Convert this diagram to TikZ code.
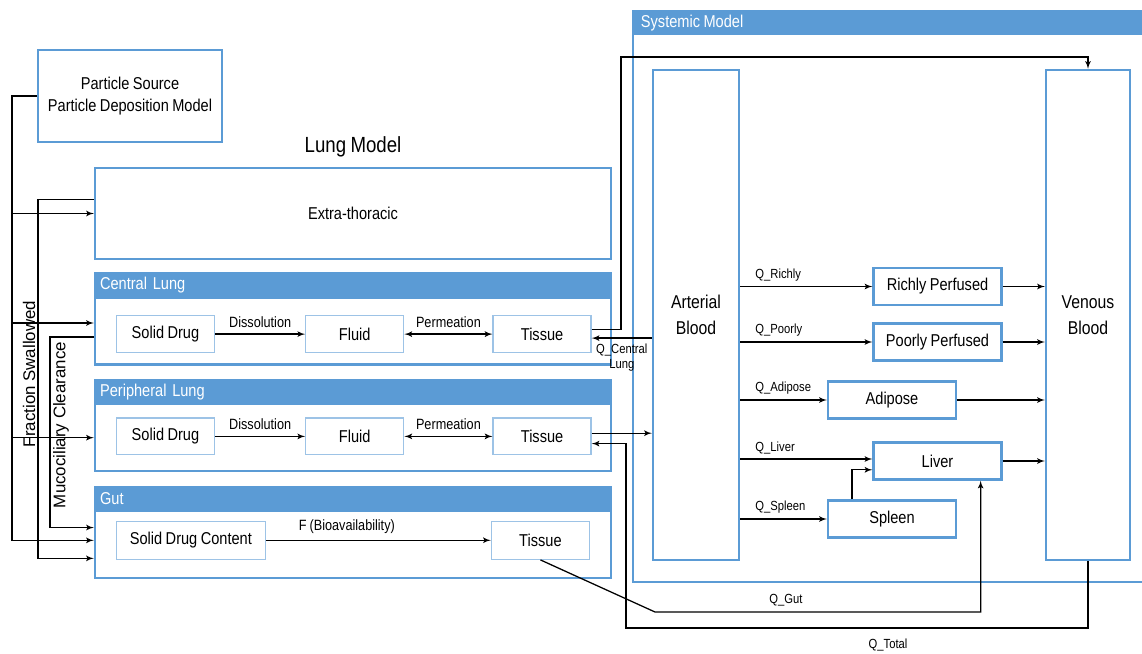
\documentclass[tikz,border=0pt]{standalone}
\usepackage{fontspec}
\setmainfont{Liberation Sans}[FakeStretch=0.85, WordSpace=0.85]
\newfontfamily\sidefont{Liberation Sans}
\usetikzlibrary{shapes, arrows, positioning}
\definecolor{panelblue}{RGB}{91,155,213}
\definecolor{itemblue}{RGB}{157,195,230}
\tikzstyle{panel} = [rectangle, draw=panelblue, line width=1.6pt, minimum width=12.9cm, minimum height=2.28cm, font=\fontsize{12.2}{14}\selectfont]
\tikzstyle{header} = [rectangle, fill=panelblue, text=white, anchor=north west, minimum height=0.65cm, text width=12.6cm, inner xsep=0.15cm, inner ysep=0pt, align=left, font=\fontsize{12.2}{14}\selectfont]
\tikzstyle{srcbox} = [rectangle, draw=panelblue, line width=1.6pt, minimum width=4.6cm, minimum height=2.3cm, align=center, font=\fontsize{12.2}{15.5}\selectfont]
\tikzstyle{compartment} = [rectangle, draw=itemblue, line width=0.9pt, minimum width=2.45cm, minimum height=0.92cm, font=\fontsize{12.2}{14}\selectfont]
\tikzstyle{organ} = [rectangle, draw=panelblue, line width=1.6pt, minimum width=3.2cm, minimum height=0.93cm, font=\fontsize{12.2}{14}\selectfont]
\tikzstyle{blood} = [rectangle, draw=panelblue, line width=1.6pt, minimum height=12.25cm, align=center, font=\fontsize{13.2}{18.5}\selectfont]
\tikzstyle{flowlabel} = [font=\fontsize{10.6}{12}\selectfont]
\tikzstyle{qlabel} = [font=\fontsize{9.4}{11}\selectfont]
\tikzstyle{sidelabel} = [rotate=90, font=\sidefont\fontsize{12}{14}\selectfont]
\tikzstyle{line} = [draw, -latex', line width=0.9pt]
\tikzstyle{dline} = [draw, latex'-latex', line width=0.9pt]

\begin{document}
\begin{tikzpicture}[x=0.025cm, y=-0.025cm]
  \useasboundingbox (0,0) rectangle (1142,653);
  %% nodes
  % source
  \node [srcbox] (source) at (130,96) {Particle Source\\Particle Deposition Model};
  % lung model panels
  \node [panel] (extra) at (353,213.5) {Extra-thoracic};
  \node [above=0.12cm of extra, font=\fontsize{15.6}{17}\selectfont] (lungtitle) {Lung Model};
  \node [panel, below=0.3cm of extra] (central) {};
  \node [header] (centralhd) at (central.north west) {Central Lung};
  \node [panel, below=0.33cm of central] (peripheral) {};
  \node [header] (peripheralhd) at (peripheral.north west) {Peripheral Lung};
  \node [panel, below=0.33cm of peripheral] (gut) {};
  \node [header] (guthd) at (gut.north west) {Gut};
  % central lung
  \node [compartment, anchor=west] (solidc) at ([xshift=0.55cm, yshift=0.79cm]central.south west) {Solid Drug};
  \node [compartment, right=2.25cm of solidc] (fluidc) {Fluid};
  \node [compartment, right=2.2cm of fluidc] (tissuec) {Tissue};
  % peripheral lung
  \node [compartment, anchor=west] (solidp) at ([xshift=0.55cm, yshift=0.9cm]peripheral.south west) {Solid Drug};
  \node [compartment, right=2.25cm of solidp] (fluidp) {Fluid};
  \node [compartment, right=2.2cm of fluidp] (tissuep) {Tissue};
  % gut
  \node [compartment, anchor=west, minimum width=3.72cm, minimum height=0.95cm] (solidg) at ([xshift=0.55cm, yshift=0.97cm]gut.south west) {Solid Drug Content};
  \node [compartment, right=5.62cm of solidg, minimum height=0.95cm] (tissueg) {Tissue};
  % side labels
  \node [sidelabel] (fraction) at (29,374) {Fraction Swallowed};
  \node [sidelabel] (mucus) at (61,425) {Mucociliary Clearance};
  % systemic model
  \fill [panelblue] (633,11) rectangle (1142,35);
  \draw [panelblue, line width=1.6pt] (1142,11) -| (633,582) -- (1142,582);
  \node [anchor=west, text=white, font=\fontsize{12.2}{14}\selectfont] (syshd) at (636,23) {Systemic Model};
  \node [blood, minimum width=2.15cm] (arterial) at (696,315) {Arterial\\Blood};
  \node [blood, minimum width=2.1cm] (venous) at (1088,315) {Venous\\Blood};
  \node [organ] (richly) at (937.5,286.5) {Richly Perfused};
  \node [organ] (poorly) at (937.5,342) {Poorly Perfused};
  \node [organ] (adipose) at (892,400) {Adipose};
  \node [organ] (liver) at (937.5,461) {Liver};
  \node [organ] (spleen) at (892,519) {Spleen};
  % helper points
  \coordinate (fsx) at (12,0);
  \coordinate (mcx) at (38,0);
  \coordinate (mcy) at (50,0);
  \coordinate (extout) at ([yshift=0.35cm]extra.west);
  \coordinate (centin) at ([yshift=-0.1cm]central.west);
  \coordinate (centout) at ([yshift=-0.45cm]central.west);
  \coordinate (periin) at ([yshift=-0.3cm]peripheral.west);
  \coordinate (gutmc) at ([yshift=0.12cm]gut.west);
  \coordinate (gutfs) at ([yshift=-0.2cm]gut.west);
  \coordinate (gutet) at ([yshift=-0.65cm]gut.west);
  \coordinate (tcout) at ([yshift=0.12cm]tissuec.east);
  \coordinate (tcin) at ([yshift=-0.1cm]tissuec.east);
  \coordinate (tpout) at ([yshift=0.08cm]tissuep.east);
  \coordinate (tpin) at ([yshift=-0.18cm]tissuep.east);
  \coordinate (liverq) at ([yshift=0.05cm]liver.west);
  \coordinate (liversp) at ([yshift=-0.22cm]liver.west);
  \coordinate (qtop) at (621,57);
  \coordinate (qtot) at (626,628);
  \coordinate (qgut) at (655,612);
  %% edges
  % swallowed and cleared fractions
  \path [line] (source.west) -| (fsx |- gutfs) -- (gutfs);
  \path [line] (fsx |- extra.west) -- (extra.west);
  \path [line] (fsx |- centin) -- (centin);
  \path [line] (fsx |- periin) -- (periin);
  \path [line] (extout) -| (mcx |- gutet) -- (gutet);
  \path [line] (centout) -| (mcy |- gutmc) -- (gutmc);
  % inside the lung
  \path [line] (solidc) -- node [flowlabel, above=1pt] {Dissolution} (fluidc);
  \path [dline] (fluidc) -- node [flowlabel, above=1pt] {Permeation} (tissuec);
  \path [line] (solidp) -- node [flowlabel, above=1pt] {Dissolution} (fluidp);
  \path [dline] (fluidp) -- node [flowlabel, above=1pt] {Permeation} (tissuep);
  \path [line] (solidg) -- node [flowlabel, above=1pt, pos=0.36] {F (Bioavailability)} (tissueg);
  % lung to blood
  \path [line] (tcout) -| (qtop) -| (venous.north);
  \path [line] (arterial.west |- tcin) -- node [qlabel, below, pos=0.5, align=center] {Q\_Central\\Lung} (tcin);
  \path [line] (tpout) -- (tpout -| arterial.west);
  \path [line] (venous.south) |- (qtot) |- (tpin);
  \node [qlabel] (qtotal) at (888,645) {Q\_Total};
  % gut to liver
  \path [line] (tissueg.south) -- (qgut) -| ([xshift=-0.55cm]liver.south east);
  \node [qlabel] (qgutlbl) at (786,600) {Q\_Gut};
  % arterial to organs
  \path [line] (arterial.east |- richly.west) -- node [qlabel, pos=0, anchor=south west, xshift=0.25cm] {Q\_Richly} (richly.west);
  \path [line] (arterial.east |- poorly.west) -- node [qlabel, pos=0, anchor=south west, xshift=0.25cm] {Q\_Poorly} (poorly.west);
  \path [line] (arterial.east |- adipose.west) -- node [qlabel, pos=0, anchor=south west, xshift=0.25cm] {Q\_Adipose} (adipose.west);
  \path [line] (arterial.east |- liverq) -- node [qlabel, pos=0, anchor=south west, xshift=0.25cm] {Q\_Liver} (liverq);
  \path [line] (arterial.east |- spleen.west) -- node [qlabel, pos=0, anchor=south west, xshift=0.25cm] {Q\_Spleen} (spleen.west);
  \path [line] ([xshift=0.625cm]spleen.north west) |- (liversp);
  % organs to venous
  \path [line] (richly.east) -- (richly.east -| venous.west);
  \path [line] (poorly.east) -- (poorly.east -| venous.west);
  \path [line] (adipose.east) -- (adipose.east -| venous.west);
  \path [line] (liver.east) -- (liver.east -| venous.west);
\end{tikzpicture}
\end{document}
